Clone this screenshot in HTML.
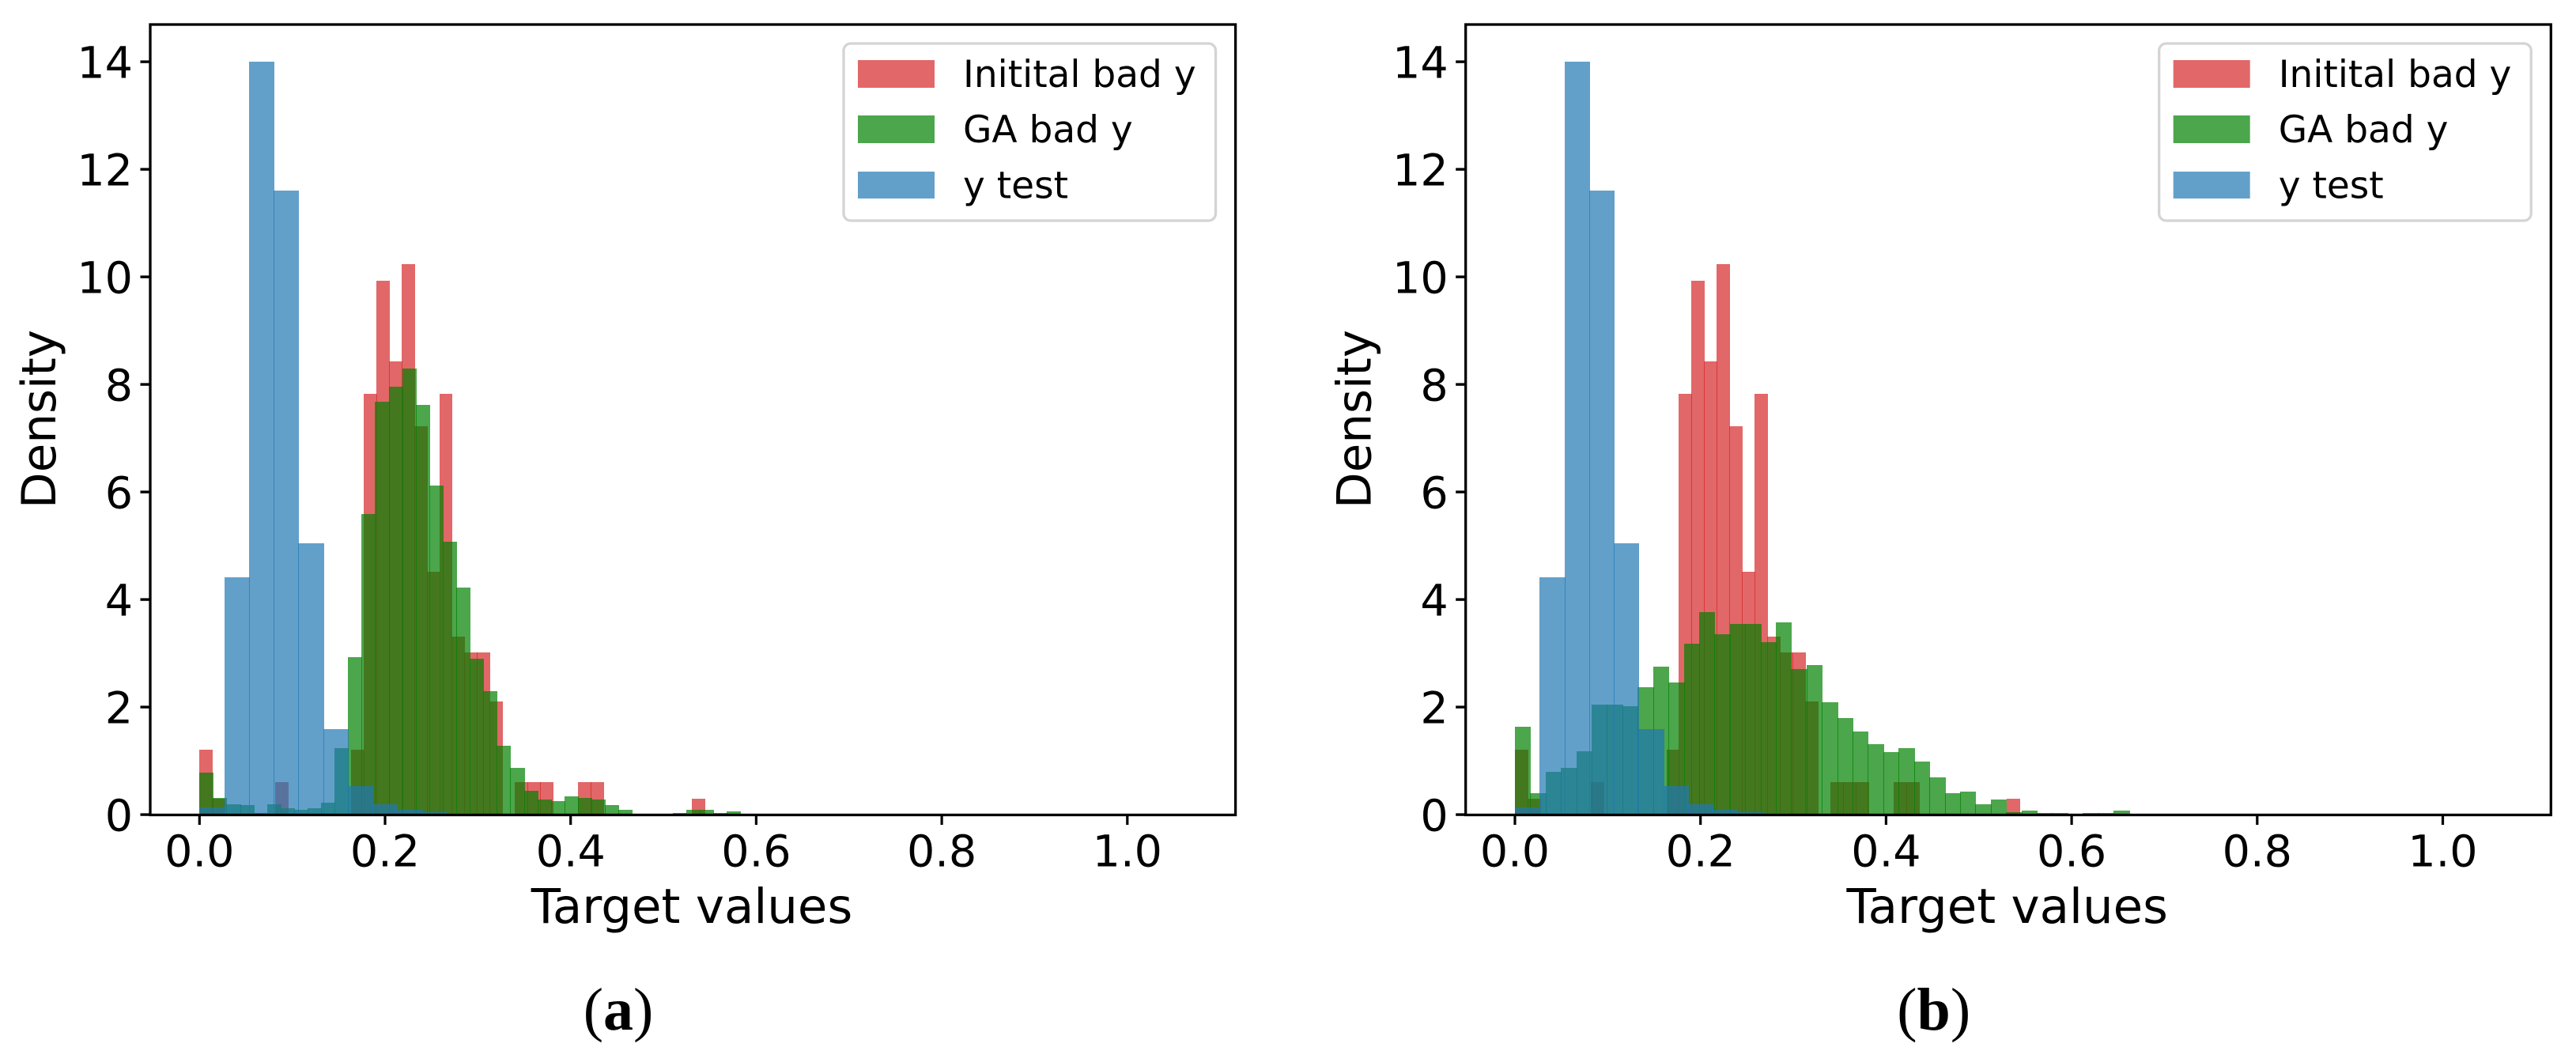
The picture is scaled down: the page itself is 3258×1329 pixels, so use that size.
<!DOCTYPE html>
<html lang="en">
<head>
<meta charset="utf-8">
<title>Target value histograms</title>
<style>
html,body{margin:0;padding:0;background:#fff;}
svg{display:block;}
text{fill:#000;font-family:"DejaVu Sans","Liberation Sans",sans-serif;}
.tick{font-size:55.5px;}
.axis{font-size:61px;}
.axis-y{font-size:59.5px;}
.leg{font-size:47px;}
.cap{font-family:"Liberation Serif",serif;font-size:76px;}
</style>
</head>
<body>
<svg id="fig" xmlns="http://www.w3.org/2000/svg" width="3258" height="1329" viewBox="0 0 3258 1329"></svg>
<script>
// Density per bin. Each series spans 40 equal bins from 0 to its range.
const initialBadY = [1.2,0.3,0,0,0,0,0.6,0,0,0,0,0,1.2,7.82,9.93,8.43,10.24,7.22,4.51,7.82,3.31,3.01,3.01,2.1,0,0.6,0.6,0.6,0,0,0.6,0.6,0,0,0,0,0,0,0,0.3];
const gaBadYPanelA = [0.78,0.31,0.19,0.18,0.03,0.19,0.12,0.09,0.12,0.22,1.24,2.93,5.59,7.68,7.95,8.29,7.62,6.12,5.07,4.22,2.9,2.29,1.28,0.87,0.44,0.28,0.25,0.34,0.31,0.28,0.18,0.09,0,0,0,0.03,0.09,0.09,0.03,0.06];
const gaBadYPanelB = [1.63,0.4,0.79,0.87,1.18,2.04,2.04,2.01,2.37,2.75,2.46,3.18,3.76,3.35,3.54,3.54,3.21,3.57,2.71,2.78,2.09,1.79,1.54,1.31,1.16,1.24,0.99,0.69,0.4,0.43,0.19,0.28,0.04,0.07,0.03,0.03,0,0.03,0.03,0.07];
const yTest = [0.13,4.41,14,11.6,5.04,1.59,0.53,0.19,0.085,0.04,0.03,0,0,0,0,0,0,0,0,0,0,0,0,0,0,0,0,0,0,0,0,0,0,0,0,0,0,0,0,0];
const initialRange = [0.544];
const gaRangeA = [0.5826];
const gaRangeB = [0.6617];
const testRange = [1.066];
const xTickLabels = ['0.0','0.2','0.4','0.6','0.8','1.0'];
const yTickLabels = ['0','2','4','6','8','10','12','14'];

const NS = 'http://www.w3.org/2000/svg';
const fig = document.getElementById('fig');
const RED = '#d62728', GREEN = '#008000', BLUE = '#1f77b4';

function make(tag, parent) {
  const el = document.createElementNS(NS, tag);
  parent.appendChild(el);
  return el;
}
function setAll(el, pairs) {
  for (const k in pairs) el.setAttribute(k, pairs[k]);
}

function drawBars(g, series, range, color, seriesName, xFn, yFn) {
  const w = range / series.length;
  series.forEach(function (v, i) {
    if (v <= 0) return;
    const x0 = Math.round(xFn(i * w));
    const x1 = Math.round(xFn((i + 1) * w));
    const top = Math.round(yFn(v));
    const bar = make('rect', g);
    
    
    // 1px overlap reproduces the darker anti-aliased seam between adjacent bars
    setAll(bar, {x: x0, y: top, width: x1 - x0 + 1, height: Math.max(1, yFn(0) - top), fill: color, 'fill-opacity': 0.7, 'shape-rendering': 'crispEdges'});
  });
}

function drawPanel(id, dx, gaSeries, gaRange, captionParts) {
  const left = 190 + dx, right = 1562.6 + dx, top = 31, bottom = 1030.5;
  const x0 = 252.3 + dx, xPerUnit = 1173.5, y0 = 1030, yPerUnit = 68;
  const xFn = function (v) { return x0 + v * xPerUnit; };
  const yFn = function (v) { return y0 - v * yPerUnit; };

  const g = make('g', fig);
  
  

  drawBars(g, initialBadY, initialRange[0], RED, 'initial-bad-y', xFn, yFn);
  drawBars(g, gaSeries, gaRange, GREEN, 'ga-bad-y', xFn, yFn);
  drawBars(g, yTest, testRange[0], BLUE, 'y-test', xFn, yFn);

  // ticks and labels
  xTickLabels.forEach(function (label) {
    const v = parseFloat(label);
    const t = make('rect', g);
    
    
    setAll(t, {x: xFn(v) - 1.6, y: bottom, width: 3.2, height: 12.5, fill: '#000'});
    const tx = make('text', g);
    
    
    setAll(tx, {x: xFn(v), y: 1095.5, 'text-anchor': 'middle', class: 'tick'});
    tx.textContent = label;
  });
  yTickLabels.forEach(function (label) {
    const v = parseFloat(label);
    const t = make('rect', g);
    
    
    setAll(t, {x: left - 12.5, y: yFn(v) - 1.6, width: 12.5, height: 3.4, fill: '#000'});
    const tx = make('text', g);
    
    
    setAll(tx, {x: 168 + dx, y: yFn(v) + 20.5, 'text-anchor': 'end', class: 'tick'});
    tx.textContent = label;
  });

  // frame
  const frame = make('rect', g);
  
  
  setAll(frame, {x: left, y: top, width: right - left, height: bottom - top, fill: 'none', stroke: '#000', 'stroke-width': 3.3});

  // axis titles
  const xt = make('text', g);
  
  
  setAll(xt, {x: 875 + dx, y: 1167, 'text-anchor': 'middle', class: 'axis'});
  xt.textContent = 'Target values';

  const yt = make('text', g);
  
  
  setAll(yt, {transform: 'translate(' + (70 + dx) + ' 530) rotate(-90)', 'text-anchor': 'middle', class: 'axis-y'});
  yt.textContent = 'Density';

  // legend
  const lg = make('g', g);
  
  
  const box = make('rect', lg);
  
  
  setAll(box, {x: 1067 + dx, y: 55, width: 470.5, height: 224, rx: 9, ry: 9, fill: '#fff', stroke: '#d4d4d4', 'stroke-width': 3.3});

  const swatch = function (sy, sh, color, label, base) {
    const s = make('rect', lg);
    
    
    setAll(s, {x: 1085 + dx, y: sy, width: 97, height: sh, fill: color, 'fill-opacity': 0.7});
    const lt = make('text', lg);
    
    
    setAll(lt, {x: 1218 + dx, y: base, class: 'leg'});
    lt.textContent = label;
  };
  swatch(76, 35, RED, 'Initital bad y', 110);
  swatch(146, 35, GREEN, 'GA bad y', 180);
  swatch(217, 34, BLUE, 'y test', 250.5);

  // sub-figure caption
  const c = make('text', g);
  
  
  setAll(c, {x: 782 + dx, y: 1302, 'text-anchor': 'middle', class: 'cap'});
  const o = make('tspan', c);
  o.textContent = '(';
  const m = make('tspan', c);
  m.setAttribute('font-weight', 'bold');
  m.textContent = captionParts;
  const e = make('tspan', c);
  e.textContent = ')';
}

drawPanel('a', 0, gaBadYPanelA, gaRangeA[0], 'a');
drawPanel('b', 1663.7, gaBadYPanelB, gaRangeB[0], 'b');
</script>
</body>
</html>
